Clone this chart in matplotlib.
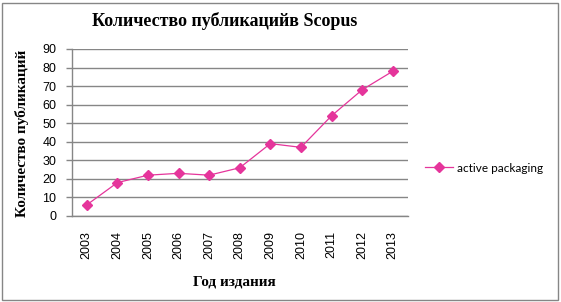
import matplotlib
matplotlib.use("Agg")
import matplotlib.pyplot as plt
from matplotlib.patches import Rectangle

years = ["2003", "2004", "2005", "2006", "2007", "2008", "2009", "2010", "2011", "2012", "2013"]
counts = [6, 18, 22, 23, 22, 26, 39, 37, 54, 68, 78]
series_name = "active packaging"
yticks = list(range(0, 91, 10))

W, H = 561, 302
fig = plt.figure(figsize=(W / 100, H / 100), dpi=100)
fig.patch.set_facecolor("white")

# outer border
fig.patches.append(Rectangle((2 / W, 2 / H), (W - 5) / W, (H - 5) / H, transform=fig.transFigure,
                             fill=False, edgecolor="#868686", linewidth=1))

x0, x1 = 71.5, 408
y0, y1 = 216, 49
ax = fig.add_axes([x0 / W, 1 - y0 / H, (x1 - x0) / W, (y0 - y1) / H])

color = "#E5359B"
xs = list(range(len(years)))
ax.plot(xs, counts, color=color, linewidth=0.9, marker="D", markersize=5.2,
        markerfacecolor=color, markeredgecolor=color, label=series_name)

ax.set_xlim(-0.5, len(years) - 0.5)
ax.set_ylim(0, 90)
ax.set_yticks(yticks)
ax.set_yticklabels([str(v) for v in yticks], fontsize=9, family="Liberation Sans")
ax.set_xticks(xs)
ax.set_xticklabels(years, rotation=90, fontsize=9, family="Liberation Sans")
ax.tick_params(axis="x", length=0, pad=11)
ax.tick_params(axis="y", length=4, color="#868686", width=1, pad=7)
ax.grid(axis="y", color="#868686", linewidth=1)
ax.set_axisbelow(True)
for s in ["top", "right"]:
    ax.spines[s].set_visible(False)
for s in ["left", "bottom"]:
    ax.spines[s].set_color("#868686")
    ax.spines[s].set_linewidth(1)

fig.text(225 / W, 1 - 21 / H, "Количество публикацийв Scopus", ha="center", va="center",
         fontsize=13, fontweight="bold", family="Liberation Serif")
fig.text(234 / W, 1 - 282 / H, "Год издания", ha="center", va="center",
         fontsize=11, fontweight="bold", family="Liberation Serif")
fig.text(22 / W, 1 - 133 / H, "Количество публикаций", ha="center", va="center", rotation=90,
         fontsize=11, fontweight="bold", family="Liberation Serif")

leg = fig.legend(loc="center left", bbox_to_anchor=(425 / W, 1 - 168 / H), frameon=False,
                 prop={"family": "Lato", "size": 8.5}, handlelength=2.4, handletextpad=0.3,
                 borderaxespad=0, borderpad=0)

fig.savefig("out.png", dpi=100)
